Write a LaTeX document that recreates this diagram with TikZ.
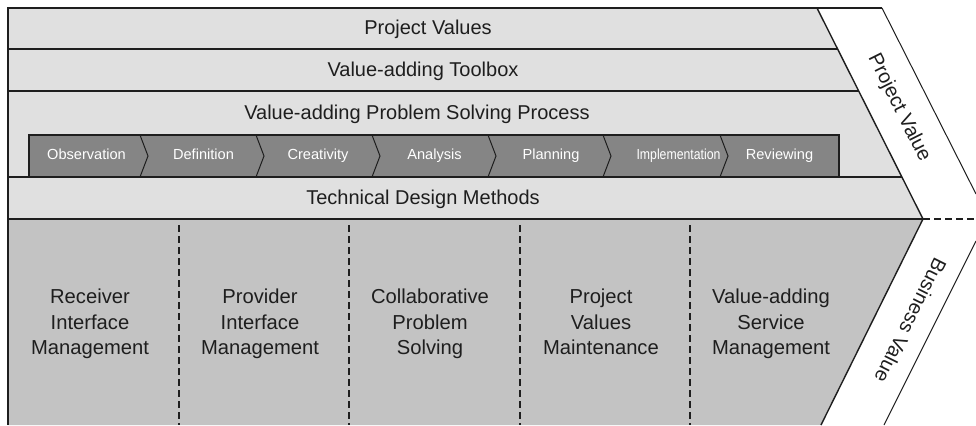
\documentclass[tikz,border=0pt]{standalone}
\usepackage{fontspec}
\setmainfont{Liberation Sans}
\definecolor{bandgray}{HTML}{E0E0E0}
\definecolor{basegray}{HTML}{C3C3C3}
\definecolor{stepgray}{HTML}{858585}
\definecolor{inkgray}{HTML}{1E1E1E}
\tikzset{
  bandlabel/.style={font=\fontsize{10}{12}\selectfont, text=inkgray, text height=7.2pt, text depth=2pt},
  steplabel/.style={font=\fontsize{7.3}{9}\selectfont, text=white, text height=5.3pt, text depth=1.5pt},
  collabel/.style={align=center, font=\fontsize{10.1}{12.8}\selectfont, text=inkgray, text height=32.9pt, text depth=2pt},
  sidelabel/.style={font=\fontsize{10}{12}\selectfont, text=inkgray, text height=7.2pt, text depth=2pt},
  edge/.style={draw=inkgray, line width=0.7pt},
  thinedge/.style={draw=inkgray, line width=0.5pt},
  divider/.style={draw=inkgray, line width=0.6pt, dash pattern=on 3.5pt off 2pt},
}
\begin{document}
\begin{tikzpicture}[x=0.5pt,y=-0.5pt]
\useasboundingbox (0,0) rectangle (976,425);

% Draw the band areas
\fill[bandgray] (8,8) -- (817,8) -- (923,219) -- (8,219) -- cycle;
\fill[basegray] (8,219) -- (923,219) -- (821,425) -- (8,425) -- cycle;

% Draw the process steps
\fill[stepgray] (29,135) rectangle (839,177);
\foreach \x in {140,256,372,488,603,720}
  \draw[thinedge] (\x,135) -- (\x+8,156) -- (\x,177);
\draw[edge] (29,177) -- (29,135) -- (839,135) -- (839,177);

%% Draw the band lines
\draw[edge] (8,49) -- (837.6,49);
\draw[edge] (8,91) -- (858.7,91);
\draw[edge] (8,177) -- (901.9,177);
\draw[edge] (8,219) -- (923,219);
\draw[edge] (8,425) -- (8,8) -- (882,8);
\draw[edge] (817,8) -- (923,219) -- (821,425);

%% Draw the value bands
\draw[thinedge] (882,8) -- (976,194);
\draw[thinedge] (976,241) -- (884,425);
\draw[divider] (923,219) -- (976,219);
\foreach \x in {179,349,520,690}
  \draw[divider] (\x,225) -- (\x,425);

%% Add the labels
\node[bandlabel] (values) at (428,29) {Project Values};
\node[bandlabel] (toolbox) at (423,71) {Value-adding Toolbox};
\node[bandlabel] (process) at (417,114) {Value-adding Problem Solving Process};
\node[bandlabel] (technical) at (423,199) {Technical Design Methods};

\node[steplabel] (observation) at (86.5,156) {Observation};
\node[steplabel] (definition) at (203.5,156) {Definition};
\node[steplabel] (creativity) at (318,156) {Creativity};
\node[steplabel] (analysis) at (434.5,156) {Analysis};
\node[steplabel] (planning) at (551,156) {Planning};
\node[steplabel] (implementation) at (678.5,156) {\scalebox{0.84}[1]{Implementation}};
\node[steplabel] (reviewing) at (779.5,156) {Reviewing};

\node[collabel] (receiver) at (90,324) {Receiver\\Interface\\Management};
\node[collabel] (provider) at (260,324) {Provider\\Interface\\Management};
\node[collabel] (collab) at (430,324) {Collaborative\\Problem\\Solving};
\node[collabel] (maintain) at (601,324) {Project\\Values\\Maintenance};
\node[collabel] (service) at (771,324) {Value-adding\\Service\\Management};

\node[sidelabel, rotate=-63.4] (projvalue) at (899,108) {Project Value};
\node[sidelabel, rotate=-116.6] (busvalue) at (909,320) {Business Value};

\end{tikzpicture}
\end{document}
